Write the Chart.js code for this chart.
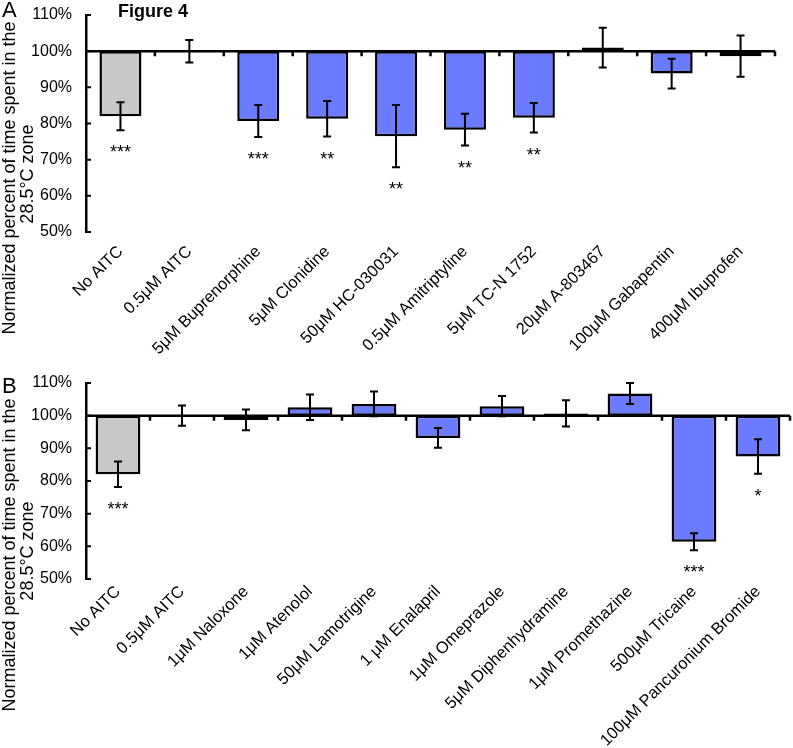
<!DOCTYPE html>
<html>
<head>
<meta charset="utf-8">
<script src="https://cdn.jsdelivr.net/npm/chart.js@4.4.1/dist/chart.umd.min.js"></script>
<style>
  body { margin: 0; background: #fff; }
  #wrapA { position: absolute; left: 0; top: 0; width: 793px; height: 360px; }
  #wrapB { position: absolute; left: 0; top: 360px; width: 793px; height: 388px; }
</style>
</head>
<body>
<div id="wrapA"><canvas id="chartA" width="793" height="360"></canvas></div>
<div id="wrapB"><canvas id="chartB" width="793" height="388"></canvas></div>
<script>
// panel A
var catsA = ['No AITC', '0.5\u03bcM AITC', '5\u03bcM Buprenorphine', '5\u03bcM Clonidine', '50\u03bcM HC-030031',
    '0.5\u03bcM Amitriptyline', '5\u03bcM TC-N 1752', '20\u03bcM A-803467', '100\u03bcM Gabapentin', '400\u03bcM Ibuprofen'];
var valsA = [82.0, 100.0, 80.7, 81.3, 76.5, 78.3, 81.6, 101.0, 93.8, 98.6];
var errA = [3.9, 3.1, 4.4, 4.9, 8.6, 4.4, 4.1, 5.5, 4.1, 5.7];
var sigA = ['***', '', '***', '**', '**', '**', '**', '', '', ''];

// panel B
var catsB = ['No AITC', '0.5\u03bcM AITC', '1\u03bcM Naloxone', '1\u03bcM Atenolol', '50\u03bcM Lamotrigine', '1 \u03bcM Enalapril',
    '1\u03bcM Omeprazole', '5\u03bcM Diphenhydramine', '1\u03bcM Promethazine', '500\u03bcM Tricaine', '100\u03bcM Pancuronium Bromide'];
var valsB = [82.1, 100.0, 98.7, 102.6, 103.6, 93.2, 102.9, 100.7, 106.8, 61.4, 87.5];
var errB = [3.9, 3.1, 3.2, 3.9, 3.8, 3.0, 3.1, 4.0, 3.2, 2.6, 5.3];
var sigB = ['***', '', '', '', '', '', '', '', '', '***', '*'];

var yTicks = [50, 60, 70, 80, 90, 100, 110];
var baseLine = 100;

var FONT = '"Liberation Sans", Arial, sans-serif';
var GREY = '#c8c8c8';
var BLUE = '#6b7bff';

function makeChart(id, cats, vals, errs, sigs, cfg) {
    var barData = vals.map(function (v) { return [baseLine, v]; });
    var colors = cats.map(function (c, i) { return i === 0 ? GREY : BLUE; });

    var extras = {
        id: 'extras',
        afterDatasetsDraw: function (chart) {
            var ctx = chart.ctx;
            var x = chart.scales.x, y = chart.scales.y, area = chart.chartArea;
            ctx.save();
            ctx.strokeStyle = '#000';
            ctx.fillStyle = '#000';

            // error bars
            ctx.lineWidth = 2;
            vals.forEach(function (v, i) {
                var px = x.getPixelForValue(i);
                var hi = y.getPixelForValue(v + errs[i]);
                var lo = y.getPixelForValue(v - errs[i]);
                ctx.beginPath();
                ctx.moveTo(px, hi); ctx.lineTo(px, lo);
                ctx.moveTo(px - 4, hi); ctx.lineTo(px + 4, hi);
                ctx.moveTo(px - 4, lo); ctx.lineTo(px + 4, lo);
                ctx.stroke();
            });

            // horizontal axis at 100%
            var y0 = y.getPixelForValue(baseLine);
            ctx.lineWidth = 2.5;
            ctx.beginPath();
            ctx.moveTo(area.left, y0); ctx.lineTo(area.right, y0);
            for (var i = 0; i < cats.length; i++) {
                var bx = i < cats.length - 1
                    ? (x.getPixelForValue(i) + x.getPixelForValue(i + 1)) / 2
                    : area.right;
                ctx.moveTo(bx, y0); ctx.lineTo(bx, y0 + 5);
            }
            ctx.stroke();
            // inward y ticks
            ctx.lineWidth = 2;
            ctx.beginPath();
            yTicks.forEach(function (t) {
                var ty = y.getPixelForValue(t);
                ctx.moveTo(area.left, ty); ctx.lineTo(area.left + 5, ty);
            });
            ctx.stroke();

            // significance stars
            ctx.font = '18px ' + FONT;
            ctx.textAlign = 'center';
            ctx.textBaseline = 'alphabetic';
            sigs.forEach(function (s, i) {
                if (!s) return;
                var px = x.getPixelForValue(i);
                var lo = y.getPixelForValue(vals[i] - errs[i]);
                ctx.fillText(s, px, lo + 28);
            });

            // y title (two lines)
            ctx.font = '18px ' + FONT;
            ctx.textBaseline = 'middle';
            ctx.save();
            ctx.translate(10, cfg.titleY);
            ctx.rotate(-Math.PI / 2);
            ctx.fillText('Normalized percent of time spent in the', 0, 0);
            ctx.restore();
            ctx.save();
            ctx.translate(28, cfg.titleY - 4);
            ctx.rotate(-Math.PI / 2);
            ctx.fillText('28.5\u00b0C zone', 0, 0);
            ctx.restore();

            // panel letter and figure heading
            ctx.textAlign = 'left';
            ctx.textBaseline = 'middle';
            ctx.font = '22px ' + FONT;
            ctx.fillText(cfg.letter, 2, cfg.letterY);
            if (cfg.heading) {
                ctx.font = 'bold 18px ' + FONT;
                ctx.fillText(cfg.heading, 118, 12);
            }
            ctx.restore();
        }
    };

    return new Chart(document.getElementById(id), {
        type: 'bar',
        data: {
            labels: cats,
            datasets: [{
                data: barData,
                backgroundColor: colors,
                borderColor: '#000',
                borderWidth: 2.5,
                borderSkipped: false,
                barPercentage: cfg.barPct,
                categoryPercentage: 1.0
            }]
        },
        options: {
            responsive: false,
            animation: false,
            layout: { padding: { left: 0, right: cfg.padRight, top: cfg.padTop, bottom: 0 } },
            plugins: { legend: { display: false }, tooltip: { enabled: false } },
            scales: {
                x: {
                    grid: { display: false, drawTicks: false },
                    border: { display: false },
                    afterFit: function (s) {
                        s.height = cfg.xHeight;
                        s.paddingLeft = 0;
                        s.paddingRight = 0;
                    },
                    ticks: {
                        autoSkip: false,
                        maxRotation: 45,
                        minRotation: 45,
                        padding: cfg.xPad,
                        color: '#000',
                        font: { family: FONT, size: 16.5 }
                    }
                },
                y: {
                    min: 50,
                    max: 110,
                    grid: { display: false, drawTicks: false },
                    border: { display: true, color: '#000', width: 2.5 },
                    afterFit: function (s) {
                        s.width = 86;
                        s.paddingTop = 0;
                        s.paddingBottom = 0;
                    },
                    ticks: {
                        stepSize: 10,
                        padding: 14,
                        color: '#000',
                        font: { family: FONT, size: 16 },
                        callback: function (v) { return v + '%'; }
                    }
                }
            }
        },
        plugins: [extras]
    });
}

makeChart('chartA', catsA, valsA, errA, sigA, {
    barPct: 0.61, padRight: 18, padTop: 15, xHeight: 128, xPad: 10,
    titleY: 178, letter: 'A', letterY: 11, heading: 'Figure 4'
});
makeChart('chartB', catsB, valsB, errB, sigB, {
    barPct: 0.70, padRight: 3, padTop: 23, xHeight: 169, xPad: 3,
    titleY: 195, letter: 'B', letterY: 27, heading: null
});
</script>
</body>
</html>
